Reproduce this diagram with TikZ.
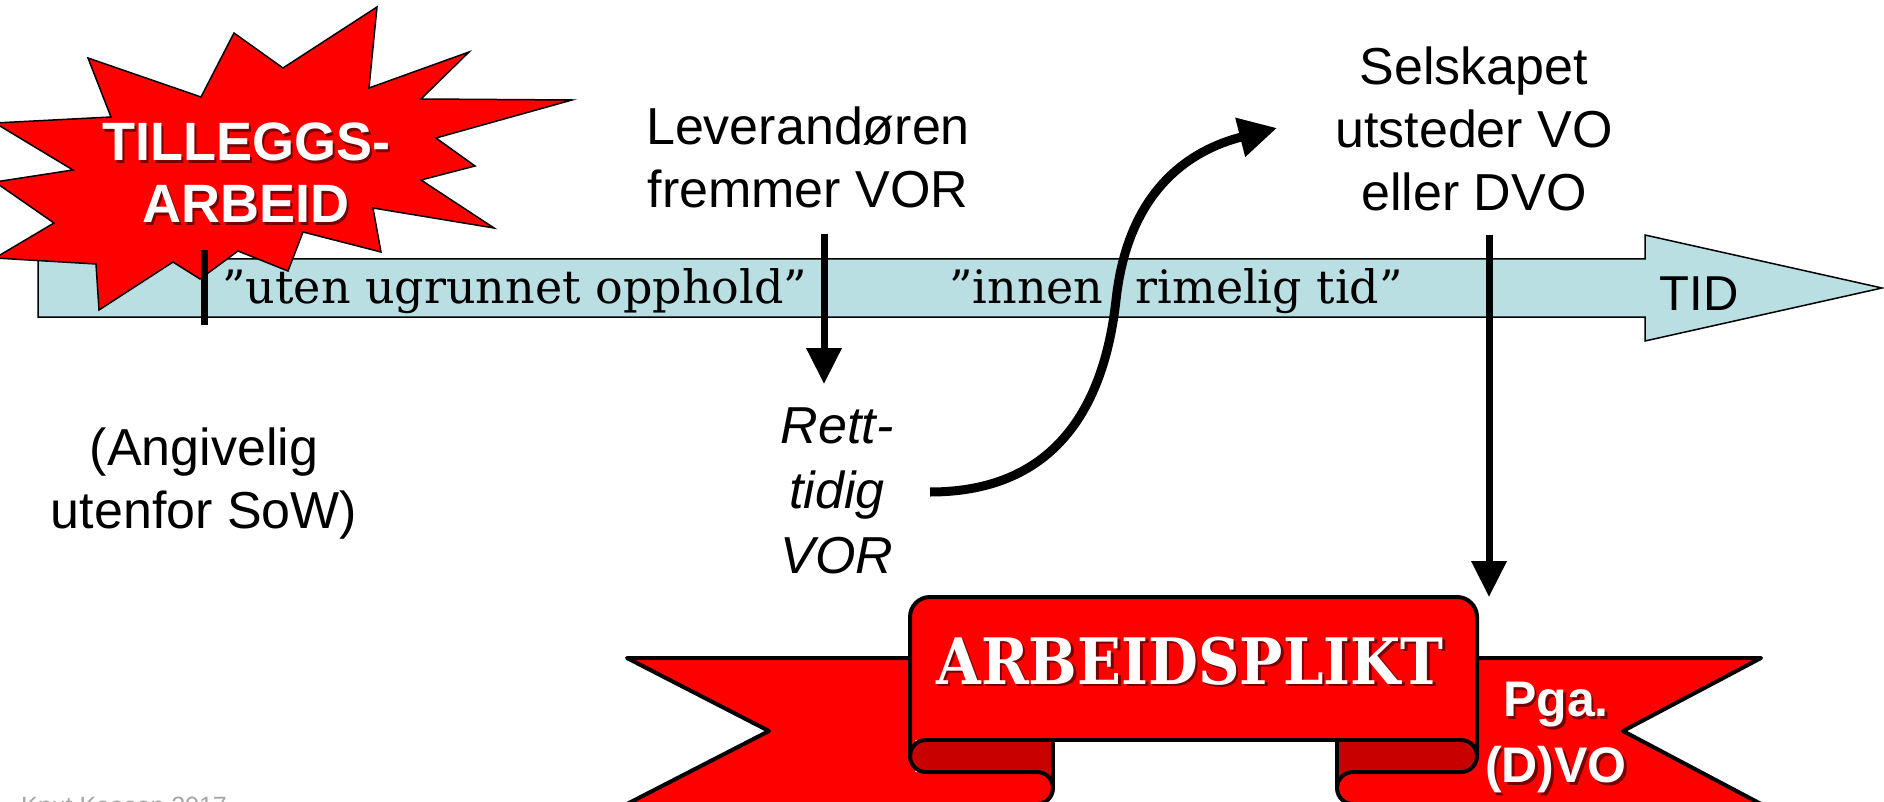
\documentclass[tikz,border=0pt]{standalone}
\usepackage{fontspec}
\usetikzlibrary{arrows.meta}
\newfontfamily\arial{Liberation Sans}
\newfontfamily\slab{DejaVu Serif Condensed}
\newfontfamily\bookserif{DejaVu Serif}
\definecolor{ribbonred}{RGB}{255,0,0}
\definecolor{folddark}{RGB}{200,0,0}
\definecolor{timeblue}{RGB}{185,223,227}
\definecolor{shadowred}{RGB}{120,0,0}
\definecolor{signgray}{RGB}{165,165,165}
\newcommand{\shadowed}[1]{\rlap{\kern2.5pt\raisebox{-2.5pt}{\textcolor{shadowred}{#1}}}#1}

\begin{document}
\begin{tikzpicture}[x=1pt, y=-1pt,
  sanstext/.style={font={\arial\fontsize{52}{63}\selectfont}, align=center, anchor=north, inner sep=0pt},
  serifquote/.style={font={\bookserif\fontsize{46}{56}\selectfont}, anchor=base west, inner sep=0pt},
  bigarrow/.style={line width=7pt, -{Triangle[length=36pt,width=34pt]}},
  ribbonline/.style={draw=black, line width=4pt, line join=round}]

    \useasboundingbox (0,0) rectangle (1884,802);

    % time line
    \draw [fill=timeblue, line width=1.5pt] (38,259) -- (1645,259) -- (1645,235) -- (1882,288)
        -- (1645,341) -- (1645,317) -- (38,317) -- cycle;

    % star
    \draw [fill=ribbonred, line width=1.5pt] (377,7) -- (369,88) -- (469,52) -- (421,99) -- (572,100)
        -- (436,138) -- (475,166) -- (421,180) -- (494,228) -- (373,208) -- (381,252) -- (303,232)
        -- (288,271) -- (238,251) -- (200,279) -- (173,262) -- (99,310) -- (96,264) -- (-5,258)
        -- (54,223) -- (-5,182) -- (73,170) -- (-5,123) -- (111,117) -- (88,58) -- (201,97)
        -- (234,33) -- (283,68) -- cycle;
    \node (burst) at (246,123) [sanstext, text=white, font={\arial\bfseries\fontsize{54}{62}\selectfont}]
        {\shadowed{TILLEGGS-}\\\shadowed{ARBEID}};
    \draw [line width=7pt] (204,250) -- (204,325);

    \node (uten) at (222,303) [serifquote] {”uten ugrunnet opphold”};
    \node (innen) at (949,303) [serifquote] {”innen\hspace{0.7em}rimelig tid”};
    \node (tid) at (1699,310) [sanstext, anchor=base, font={\arial\fontsize{49}{56}\selectfont}] {TID};

    \node (lev) at (808,107) [sanstext] {Leverandøren\\fremmer VOR};
    \node (sel) at (1474,47) [sanstext] {Selskapet\\utsteder VO\\eller DVO};
    \node (ang) at (204,428) [sanstext] {(Angivelig\\utenfor SoW)};
    \node (rett) at (837,408) [sanstext, font={\arial\itshape\fontsize{52}{65}\selectfont}] {Rett-\\tidig\\VOR};

    \coordinate (levfoot) at (824,234);
    \coordinate (rettop) at (824,384);
    \coordinate (selfoot) at (1489,235);
    \coordinate (plikttop) at (1489,597);
    \coordinate (turnstart) at (930,492);
    \coordinate (turnend) at (1277,128);
    \draw [bigarrow] (levfoot) -- (rettop);
    \draw [line width=9pt, -{Triangle[length=38pt,width=38pt]}] (turnstart)
        .. controls (1060,492) and (1105,400) .. (1116,300)
        .. controls (1128,190) and (1190,150) .. (turnend);

    % ribbon
    \path [fill=ribbonred, ribbonline] (915,658) -- (627,658) -- (769,731) -- (627,804) -- (915,804);
    \path [fill=ribbonred, ribbonline] (1470,658) -- (1761,658) -- (1623,731) -- (1761,804) -- (1470,804);
    \fill [folddark] (926,740) rectangle (1053,790);
    \fill [folddark] (926,756) circle [radius=16];
    \fill [folddark] (1337,740) rectangle (1461,790);
    \fill [folddark] (1461,756) circle [radius=16];
    \fill [ribbonred] (905,772) -- (1037,772) arc [start angle=-90, end angle=90, radius=16] -- (905,804) -- cycle;
    \fill [ribbonred] (1353,772) arc [start angle=270, end angle=90, radius=16] -- (1485,804) -- (1485,772) -- cycle;
    \fill [ribbonred] (910,740) -- (910,617) arc [start angle=180, end angle=270, radius=20] -- (1457,597)
        arc [start angle=270, end angle=360, radius=20] -- (1477,740) -- cycle;
    \draw [ribbonline] (926,740) -- (1461,740);
    \draw [ribbonline] (910,756) -- (910,617) arc [start angle=180, end angle=270, radius=20] -- (1457,597)
        arc [start angle=270, end angle=360, radius=20] -- (1477,756);
    \draw [ribbonline] (926,740) arc [start angle=270, end angle=90, radius=16] -- (1037,772)
        arc [start angle=-90, end angle=90, radius=16];
    \draw [ribbonline] (1053,740) -- (1053,788);
    \draw [ribbonline] (1461,740) arc [start angle=-90, end angle=90, radius=16] -- (1353,772)
        arc [start angle=270, end angle=90, radius=16];
    \draw [ribbonline] (1337,740) -- (1337,788);

    \draw [bigarrow] (selfoot) -- (plikttop);

    \node (plikt) at (1190,684) [anchor=base, inner sep=0pt, text=white, font={\slab\bfseries\fontsize{64}{74}\selectfont}]
        {\shadowed{ARBEIDSPLIKT}};
    \node (pga) at (1556,682) [sanstext, text=white, font={\arial\bfseries\fontsize{50}{66}\selectfont}]
        {\shadowed{Pga.}\\\shadowed{(D)VO}};

    \node (sign) at (21,814) [anchor=base west, inner sep=0pt, text=signgray, font={\arial\fontsize{25}{30}\selectfont}]
        {Knut Kaasen 2017};

\end{tikzpicture}
\end{document}
